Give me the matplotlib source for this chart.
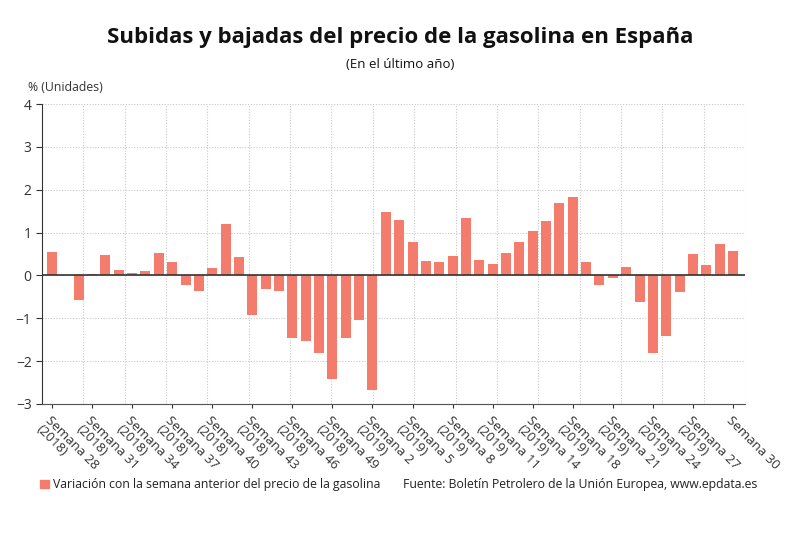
import numpy as np
import matplotlib.pyplot as plt

plt.rcParams['font.family'] = ['Open Sans', 'DejaVu Sans']

# variación semanal (%) del precio de la gasolina, 52 semanas
valores = [0.55, 0.0, -0.58, 0.04, 0.47, 0.13, 0.06, 0.10, 0.52, 0.31,
           -0.23, -0.37, 0.17, 1.20, 0.43, -0.93, -0.31, -0.37, -1.45, -1.52,
           -1.82, -2.42, -1.45, -1.03, -2.68, 1.49, 1.30, 0.77, 0.34, 0.31,
           0.46, 1.33, 0.37, 0.27, 0.52, 0.77, 1.04, 1.27, 1.70, 1.83,
           0.31, -0.23, -0.05, 0.20, -0.62, -1.80, -1.42, -0.39, 0.51, 0.25,
           0.73, 0.56]
etiquetas = ["Semana 28\n(2018)", "Semana 31\n(2018)", "Semana 34\n(2018)",
             "Semana 37\n(2018)", "Semana 40\n(2018)", "Semana 43\n(2018)",
             "Semana 46\n(2018)", "Semana 49\n(2018)", "Semana 2\n(2019)",
             "Semana 5\n(2019)", "Semana 8\n(2019)", "Semana 11\n(2019)",
             "Semana 14\n(2019)", "Semana 18\n(2019)", "Semana 21\n(2019)",
             "Semana 24\n(2019)", "Semana 27\n(2019)", "Semana 30"]

color = '#F47C6C'
x = np.arange(len(valores))

fig = plt.figure(figsize=(8, 5.39), dpi=100)
ax = fig.add_axes([0.0525, 0.2505, 0.8788, 0.5565])

ax.bar(x, valores, width=0.75, color=color, zorder=3)

xmin, xmax = -0.75, 51.9
ax.set_xlim(xmin, xmax)
ax.set_ylim(-3, 4)
ax.set_yticks(range(-3, 5))

# rejilla
for yv in range(-2, 5):
    ax.axhline(yv, color='#c8c8c8', lw=0.8, ls=(0, (1, 1.5)), zorder=1)
for xv in np.linspace(xmin, xmax, 18)[1:]:
    ax.axvline(xv, color='#c8c8c8', lw=0.8, ls=(0, (1, 1.5)), zorder=1)
ax.axhline(0, color='#333333', lw=1.2, zorder=4)

for s in ['top', 'right']:
    ax.spines[s].set_visible(False)
ax.spines['left'].set_color('#333333')
ax.spines['bottom'].set_color('#555555')
ax.spines['bottom'].set_linestyle((0, (1, 0.6)))

ax.set_xticks(x[::3])
ax.set_xticklabels(etiquetas, rotation=-45, ha='left', va='top',
                   rotation_mode='anchor', fontsize=9.5, color='#333333',
                   linespacing=1.0)
ax.tick_params(axis='x', length=3, color='#333333', pad=4)
ax.tick_params(axis='y', labelsize=10, length=4, color='#333333', labelcolor='#333333')

fig.text(0.5, 0.93, "Subidas y bajadas del precio de la gasolina en España",
         ha='center', va='center', fontsize=16, fontweight='bold', color='#111111')
fig.text(0.5, 0.88, "(En el último año)", ha='center', va='center',
         fontsize=9.5, color='#111111')
fig.text(0.035, 0.837, "% (Unidades)", ha='left', va='center',
         fontsize=8.8, color='#333333')

fig.patches.append(plt.Rectangle((0.05, 0.094), 0.011, 0.016, color=color,
                                 transform=fig.transFigure, figure=fig))
fig.text(0.066, 0.102, "Variación con la semana anterior del precio de la gasolina",
         ha='left', va='center', fontsize=8.85, color='#222222')
fig.text(0.504, 0.102, "Fuente: Boletín Petrolero de la Unión Europea, www.epdata.es",
         ha='left', va='center', fontsize=8.85, color='#222222')

fig.savefig('out.png', dpi=100)
